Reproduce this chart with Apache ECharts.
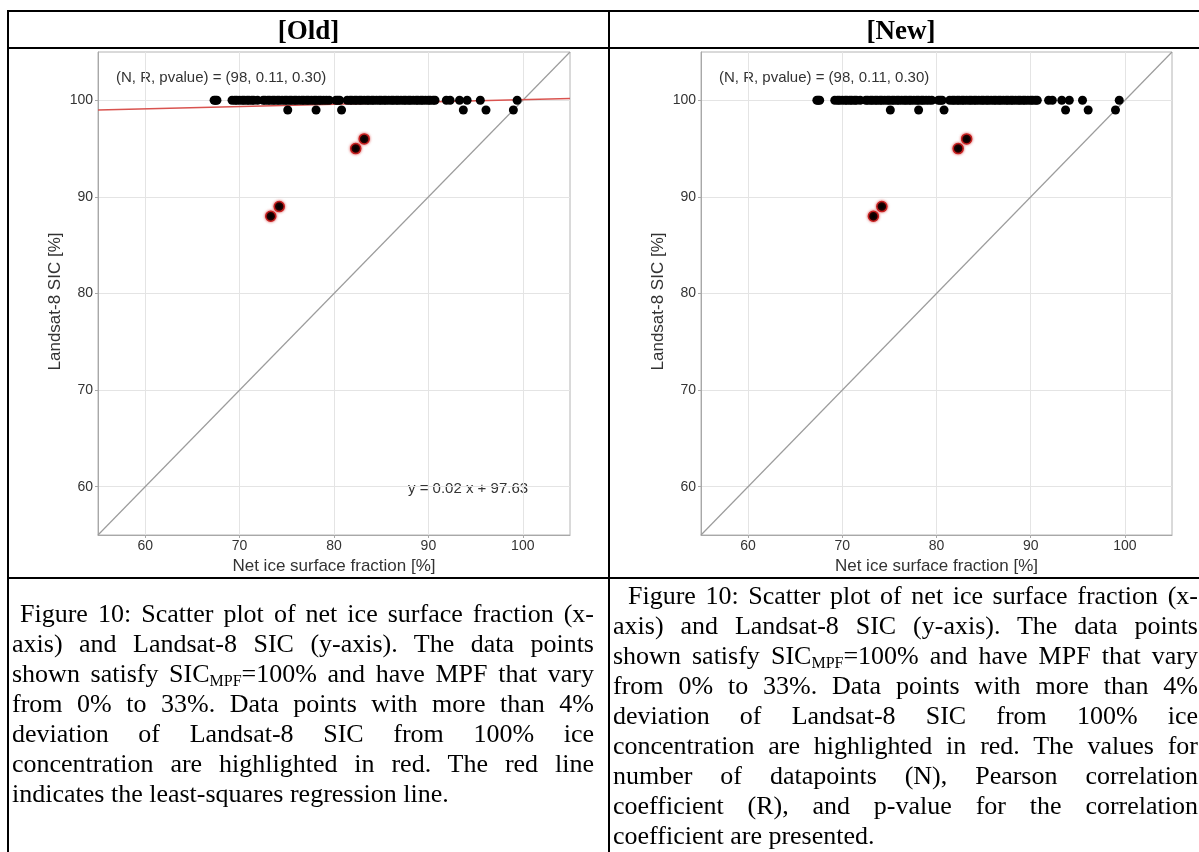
<!DOCTYPE html>
<html>
<head>
<meta charset="utf-8">
<script src="https://cdn.jsdelivr.net/npm/echarts@6.0.0/dist/echarts.min.js"></script>
<style>
  html, body { margin: 0; padding: 0; background: #fff; }
  #page { position: relative; width: 1199px; height: 852px; overflow: hidden; }
  #chart { position: absolute; left: 0; top: 0; width: 1199px; height: 852px; }
  .rule { position: absolute; background: #000; }
  .head { position: absolute; top: 12px; height: 36px; line-height: 36px; text-align: center;
          font-family: 'Liberation Serif', 'Times New Roman', serif; font-weight: bold; font-size: 27px; color: #000; }
  .cap { position: absolute; font-family: 'Liberation Serif', 'Times New Roman', serif; font-size: 26px; color: #000; }
  .cap div { height: 30px; line-height: 30px; text-align: justify; text-align-last: justify; }
  .cap div.last { text-align-last: left; }
  .sub { font-size: 16px; vertical-align: -4px; line-height: 0; }
</style>
</head>
<body>
<div id="page">
  <div id="chart"></div>

  <div class="rule" style="left:7px;top:10px;width:1192px;height:2px"></div>
  <div class="rule" style="left:7px;top:47px;width:1192px;height:2px"></div>
  <div class="rule" style="left:7px;top:577px;width:1192px;height:2px"></div>
  <div class="rule" style="left:7px;top:10px;width:2px;height:842px"></div>
  <div class="rule" style="left:608px;top:10px;width:2px;height:842px"></div>

  <div class="head" style="left:9px;width:599px">[Old]</div>
  <div class="head" style="left:610px;width:582px">[New]</div>

  <div class="cap" style="left:12px;top:599px;width:582px">
    <div style="padding-left:8px">Figure 10: Scatter plot of net ice surface fraction (x-</div>
    <div>axis) and Landsat-8 SIC (y-axis). The data points</div>
    <div>shown satisfy SIC<span class="sub">MPF</span>=100% and have MPF that vary</div>
    <div>from 0% to 33%. Data points with more than 4%</div>
    <div>deviation of Landsat-8 SIC from 100% ice</div>
    <div>concentration are highlighted in red. The red line</div>
    <div class="last">indicates the least-squares regression line.</div>
  </div>

  <div class="cap" style="left:613px;top:581px;width:585px">
    <div style="padding-left:15px">Figure 10: Scatter plot of net ice surface fraction (x-</div>
    <div>axis) and Landsat-8 SIC (y-axis). The data points</div>
    <div>shown satisfy SIC<span class="sub">MPF</span>=100% and have MPF that vary</div>
    <div>from 0% to 33%. Data points with more than 4%</div>
    <div>deviation of Landsat-8 SIC from 100% ice</div>
    <div>concentration are highlighted in red. The values for</div>
    <div>number of datapoints (N), Pearson correlation</div>
    <div>coefficient (R), and p-value for the correlation</div>
    <div class="last">coefficient are presented.</div>
  </div>
</div>

<script>
// net ice surface fraction of the points with Landsat-8 SIC = 100
var xAt100 = [
  67.3, 67.45, 67.6,
  69.2, 69.5, 69.7, 70.0, 70.3, 70.5, 70.8, 71.0, 71.3, 71.5, 71.9,
  72.5, 72.7, 73.0, 73.2, 73.5, 73.7, 74.0, 74.2, 74.5, 74.8, 75.0, 75.3, 75.5, 75.8,
  76.0, 76.3, 76.6, 76.8, 77.1, 77.3, 77.6, 77.9, 78.1, 78.4, 78.6, 78.9, 79.2, 79.5,
  80.2, 80.4, 80.6,
  81.4, 81.7, 81.9, 82.2, 82.4, 82.7, 82.9, 83.2, 83.5, 83.7, 84.0, 84.2, 84.5, 84.8,
  85.0, 85.3, 85.5, 85.8, 86.1, 86.3, 86.6, 86.8, 87.1, 87.4, 87.6, 87.9, 88.1, 88.4,
  88.7, 88.9, 89.2, 89.4, 89.7, 90.0, 90.2, 90.5, 90.7,
  91.9, 92.3, 93.3, 94.1, 95.5, 99.4
];
// points with Landsat-8 SIC = 99
var xAt99 = [75.1, 78.1, 80.8, 93.7, 96.1, 99.0];
// highlighted points (> 4% deviation)
var redX = [73.3, 74.2, 82.3, 83.2];
var redY = [88, 89, 95, 96];

var oneToOne = [[55, 55], [105, 105]];
var regression = [[55, 99.0], [105, 100.18]];
var tickValues = [60, 70, 80, 90, 100];

var statText = '(N, R, pvalue) = (98, 0.11, 0.30)';
var eqText = 'y = 0.02 x + 97.63';

var blackPts = xAt100.map(function (x) { return [x, 100]; })
  .concat(xAt99.map(function (x) { return [x, 99]; }));
var redPts = redX.map(function (x, i) { return [x, redY[i]]; });

var panels = [
  { left: 98, width: 472, regression: true },
  { left: 701, width: 471, regression: false }
];

var option = {
  animation: false,
  textStyle: { fontFamily: 'Liberation Sans, Arial, sans-serif' },
  grid: [],
  xAxis: [],
  yAxis: [],
  series: [],
  graphic: []
};

panels.forEach(function (p, i) {
  option.grid.push({
    left: p.left, top: 52, width: p.width, height: 483,
    show: true, backgroundColor: '#fff', borderColor: '#b4b4b4', borderWidth: 1
  });
  option.xAxis.push({
    gridIndex: i, type: 'value', min: 55, max: 105,
    name: 'Net ice surface fraction [%]', nameLocation: 'middle', nameGap: 22,
    nameTextStyle: { fontSize: 17, color: '#333' },
    axisLine: { lineStyle: { color: '#a8a8a8', width: 1 } },
    axisTick: { show: true, length: 3, customValues: tickValues, lineStyle: { color: '#a8a8a8' } },
    axisLabel: { customValues: tickValues, fontSize: 14, color: '#333', margin: 4 },
    splitLine: { show: true, lineStyle: { color: '#e4e4e4', width: 1 } }
  });
  option.yAxis.push({
    gridIndex: i, type: 'value', min: 55, max: 105,
    name: 'Landsat-8 SIC [%]', nameLocation: 'middle', nameGap: 34,
    nameTextStyle: { fontSize: 17, color: '#333', padding: [0, 16, 0, 0] },
    axisLine: { show: true, lineStyle: { color: '#a8a8a8', width: 1 } },
    axisTick: { show: true, length: 3, customValues: tickValues, lineStyle: { color: '#a8a8a8' } },
    axisLabel: { customValues: tickValues, fontSize: 14, color: '#333', margin: 5 },
    splitLine: { show: true, lineStyle: { color: '#e4e4e4', width: 1 } }
  });

  option.series.push({
    type: 'line', xAxisIndex: i, yAxisIndex: i, data: oneToOne,
    symbol: 'none', silent: true, z: 2,
    lineStyle: { color: '#9c9c9c', width: 1.2 }
  });
  if (p.regression) {
    option.series.push({
      type: 'line', xAxisIndex: i, yAxisIndex: i, data: regression,
      symbol: 'none', silent: true, z: 2,
      lineStyle: { color: '#d9534f', width: 1.5 }
    });
  }
  option.series.push({
    type: 'scatter', xAxisIndex: i, yAxisIndex: i, data: blackPts,
    symbolSize: 9, z: 3,
    itemStyle: { color: '#000', opacity: 1 }
  });
  option.series.push({
    type: 'scatter', xAxisIndex: i, yAxisIndex: i, data: redPts,
    symbolSize: 10, z: 4,
    itemStyle: { color: '#000', borderColor: '#c62020', borderWidth: 1.5,
      shadowBlur: 3, shadowColor: 'rgba(200,0,0,0.6)', opacity: 1 }
  });

  option.graphic.push({
    type: 'text', left: p.left + 18, top: 70,
    style: { text: statText, fontSize: 15, fill: '#333', fontFamily: 'Liberation Sans, Arial, sans-serif' }
  });
  if (p.regression) {
    option.graphic.push({
      type: 'text', left: 408, top: 481,
      style: { text: eqText, fontSize: 15, fill: '#333', fontFamily: 'Liberation Sans, Arial, sans-serif' }
    });
  }
});

var chart = echarts.init(document.getElementById('chart'));
chart.setOption(option);
</script>
</body>
</html>
